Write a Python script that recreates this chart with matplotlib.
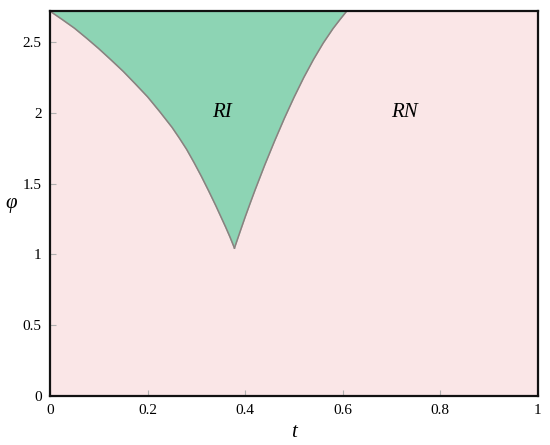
import numpy as np
import matplotlib.pyplot as plt

plt.rcParams['font.family'] = ['Liberation Serif', 'DejaVu Serif']

# boundary of the RI region
left_t = [0.0, 0.025, 0.05, 0.075, 0.10, 0.125, 0.15, 0.175, 0.20, 0.225, 0.25,
          0.265, 0.28, 0.295, 0.31, 0.325, 0.34, 0.35, 0.36, 0.369, 0.378]
left_phi = [2.718, 2.659, 2.598, 2.527, 2.453, 2.374, 2.293, 2.204, 2.113, 2.008, 1.898,
            1.822, 1.742, 1.650, 1.553, 1.450, 1.343, 1.268, 1.193, 1.122, 1.045]
right_t = [0.378, 0.39, 0.40, 0.41, 0.42, 0.44, 0.46, 0.48, 0.50, 0.52,
           0.54, 0.56, 0.58, 0.595, 0.608]
right_phi = [1.045, 1.166, 1.265, 1.360, 1.453, 1.631, 1.799, 1.959, 2.109, 2.249,
             2.377, 2.493, 2.595, 2.662, 2.718]

phi_max = np.e
x_ticks = [0, 0.2, 0.4, 0.6, 0.8, 1]
x_labels = ['0', '0.2', '0.4', '0.6', '0.8', '1']
y_ticks = [0, 0.5, 1, 1.5, 2, 2.5]
y_labels = ['0', '0.5', '1', '1.5', '2', '2.5']

fig = plt.figure(figsize=(5.5, 4.45), dpi=100)
ax = fig.add_axes([0.091, 0.110, 0.887, 0.865])
ax.set_facecolor('#fae6e7')

# green region between the two curves
poly_t = left_t + right_t[1:]
poly_phi = left_phi + right_phi[1:]
ax.fill(poly_t, poly_phi, color='#8dd4b4', zorder=1)
ax.plot(left_t, left_phi, color='#8c7f7f', lw=1.1, zorder=2)
ax.plot(right_t, right_phi, color='#8c7f7f', lw=1.1, zorder=2)

ax.text(0.352, 2.0, 'RI', fontsize=15, style='italic', ha='center', va='center')
ax.text(0.727, 2.0, 'RN', fontsize=15, style='italic', ha='center', va='center')

ax.set_xlim(0, 1)
ax.set_ylim(0, phi_max)
ax.set_xticks(x_ticks)
ax.set_xticklabels(x_labels)
ax.set_yticks(y_ticks)
ax.set_yticklabels(y_labels)
ax.tick_params(direction='in', length=4, width=0.8, color='#b0b0b0',
               labelsize=11, pad=6)

for side in ['left', 'bottom', 'right', 'top']:
    ax.spines[side].set_color('#111111')
    ax.spines[side].set_linewidth(1.6)

ax.set_xlabel('t', fontsize=15, style='italic', labelpad=4)
ax.set_ylabel('φ', fontsize=15, style='italic', rotation=0, labelpad=8, va='center')

fig.savefig('out.png', dpi=100)
